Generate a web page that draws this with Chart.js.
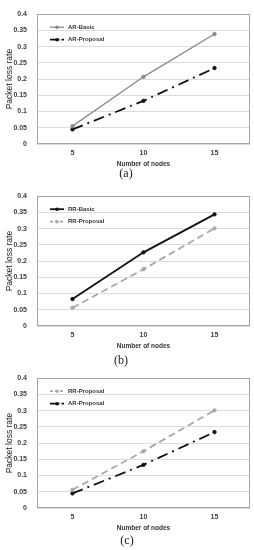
<!DOCTYPE html>
<html><head><meta charset="utf-8">
<script src="https://cdn.jsdelivr.net/npm/chart.js@4/dist/chart.umd.min.js"></script>
<style>
html,body{margin:0;padding:0;background:#fff;width:254px;height:550px;overflow:hidden;}
canvas{position:absolute;left:0;}
.lab{position:absolute;font-family:"Liberation Serif",serif;font-size:12px;color:#222;transform:translateX(-50%);}
</style></head><body>
<canvas id="ca" width="254" height="168" style="top:0px"></canvas>
<canvas id="cb" width="254" height="168" style="top:182px"></canvas>
<canvas id="cc" width="254" height="168" style="top:364px"></canvas>
<div class="lab" style="left:126px;top:166px">(a)</div>
<div class="lab" style="left:121px;top:353px">(b)</div>
<div class="lab" style="left:127px;top:533px">(c)</div>
<script>
const categories = ['5', '10', '15'];
const arBasic    = [0.055, 0.207, 0.339];
const arProposal = [0.045, 0.133, 0.234];
const rrBasic    = [0.083, 0.227, 0.344];
const rrProposal = [0.056, 0.175, 0.301];
const xTitle = 'Number of nodes';
const yTitle = 'Packet loss rate';

const STY = {
  'AR-Basic':    {borderColor:'#8a8a8a', pointBackgroundColor:'#8a8a8a', pointBorderColor:'#8a8a8a', borderWidth:1.3, borderDash:[]},
  'AR-Proposal': {borderColor:'#111', pointBackgroundColor:'#111', pointBorderColor:'#111', borderWidth:1.8, borderDash:[11,5,2,5]},
  'RR-Basic':    {borderColor:'#111', pointBackgroundColor:'#111', pointBorderColor:'#111', borderWidth:1.8, borderDash:[]},
  'RR-Proposal': {borderColor:'#a8a8a8', pointBackgroundColor:'#a8a8a8', pointBorderColor:'#a8a8a8', borderWidth:1.8, borderDash:[7,4]}
};

const frame = {
  id:'frame',
  beforeDatasetsDraw(c){
    const a=c.chartArea, x=c.ctx;
    x.save(); x.strokeStyle='#a6a6a6'; x.lineWidth=1;
    const l=Math.round(a.left)+0.5, t=Math.round(a.top)+0.5, r=Math.round(a.right)-0.5, b=Math.round(a.bottom)-0.5;
    x.strokeRect(l,t,r-l,b-t); x.restore();
  }
};
const innerLegend = {
  id:'innerLegend',
  afterDatasetsDraw(c){
    const a=c.chartArea, x=c.ctx;
    c.data.datasets.forEach((d,i)=>{
      const y=a.top+13+i*12.5;
      x.save();
      x.strokeStyle=d.borderColor; x.lineWidth=d.borderWidth;
      x.setLineDash(d.legendDash||[]);
      x.beginPath(); x.moveTo(a.left+13,y); x.lineTo(a.left+27,y); x.stroke();
      x.setLineDash([]);
      x.fillStyle=d.pointBackgroundColor; x.beginPath(); x.arc(a.left+20,y,1.8,0,Math.PI*2); x.fill();
      x.fillStyle='#333'; x.font='bold 6px "Liberation Sans", sans-serif'; x.textBaseline='middle';
      x.fillText(d.label,a.left+31,y);
      x.restore();
    });
  }
};

function make(id, series, padTop){
  const datasets = series.map(s=>Object.assign({
    label:s[0], data:s[1], pointRadius:1.7, pointHoverRadius:1.7, pointBorderWidth:1, fill:false, tension:0,
    legendDash: s[0]==='AR-Proposal'?[6,2,1.5,2]:(s[0]==='RR-Proposal'?[3,2]:[])
  }, STY[s[0]]));
  new Chart(document.getElementById(id), {
    type:'line',
    data:{labels:categories, datasets},
    options:{
      responsive:false, animation:false, devicePixelRatio:1,
      layout:{padding:{top:padTop,right:4,left:0,bottom:0}},
      plugins:{legend:{display:false}, tooltip:{enabled:false}},
      scales:{
        x:{
          offset:true,
          grid:{display:false, drawTicks:false},
          border:{display:false},
          ticks:{padding:5, color:'#404040', font:{family:'"Liberation Sans", sans-serif', size:7, weight:'bold'}},
          title:{display:true, text:xTitle, color:'#333', padding:{top:0,bottom:0}, font:{family:'"Liberation Sans", sans-serif', size:6.5, weight:'bold'}},
          afterFit(s){s.height=24;}
        },
        y:{
          min:0, max:0.4,
          grid:{color:'#dcdcdc', lineWidth:1, drawTicks:false},
          border:{display:false},
          ticks:{stepSize:0.05, padding:10, color:'#404040', font:{family:'"Liberation Sans", sans-serif', size:7, weight:'bold'},
                 callback:v=>String(Math.round(v*100)/100)},
          title:{display:true, text:yTitle, color:'#222', padding:{top:5,bottom:0}, font:{family:'"Liberation Sans", sans-serif', size:8.5}},
          afterFit(s){s.width=37;}
        }
      }
    },
    plugins:[frame, innerLegend]
  });
}
make('ca', [['AR-Basic', arBasic], ['AR-Proposal', arProposal]], 5);
make('cb', [['RR-Basic', rrBasic], ['RR-Proposal', rrProposal]], 5.5);
make('cc', [['RR-Proposal', rrProposal], ['AR-Proposal', arProposal]], 5.5);
</script>
</body></html>
